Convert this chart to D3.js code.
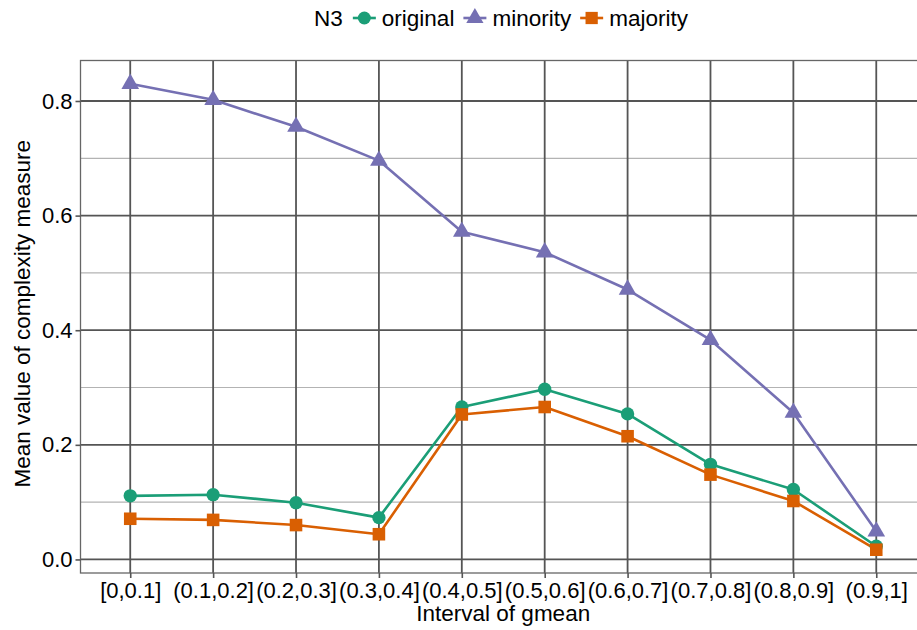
<!DOCTYPE html>
<html>
<head>
<meta charset="utf-8">
<script src="https://cdn.jsdelivr.net/npm/d3@7"></script>
<style>
  html, body { margin: 0; padding: 0; background: #ffffff; }
  svg { display: block; font-family: "Liberation Sans", Arial, Helvetica, sans-serif; }
</style>
</head>
<body>
<svg id="chart" width="917" height="630"></svg>
<script>
// Intervals of gmean (x categories)
const categories = ["[0,0.1]", "(0.1,0.2]", "(0.2,0.3]", "(0.3,0.4]", "(0.4,0.5]",
                    "(0.5,0.6]", "(0.6,0.7]", "(0.7,0.8]", "(0.8,0.9]", "(0.9,1]"];

// Mean N3 value per interval, for each series
const original = [0.111, 0.113, 0.099, 0.073, 0.266, 0.297, 0.254, 0.166, 0.122, 0.023];
const minority = [0.830, 0.802, 0.755, 0.696, 0.572, 0.536, 0.471, 0.383, 0.256, 0.049];
const majority = [0.071, 0.069, 0.060, 0.044, 0.253, 0.266, 0.215, 0.148, 0.102, 0.017];

const seriesNames = ["original", "minority", "majority"];
const yMajorTicks = [0.0, 0.2, 0.4, 0.6, 0.8];
const yMinorTicks = [0.1, 0.3, 0.5, 0.7];

const legendTitle = "N3";
const xTitle = "Interval of gmean";
const yTitle = "Mean value of complexity measure";

const colors = { original: "#1B9E77", minority: "#7570B3", majority: "#D95F02" };
const shapes = { original: d3.symbolCircle, minority: d3.symbolTriangle, majority: d3.symbolSquare };
const shapeSize = { original: 140, minority: 135, majority: 158 };

const series = [
  { name: "original", values: original },
  { name: "minority", values: minority },
  { name: "majority", values: majority }
];

const svg = d3.select("#chart");
const panel = { left: 80.5, right: 926, top: 60.5, bottom: 573 };

// Discrete x axis with 0.6 unit padding on each side
const x = d3.scalePoint()
  .domain(categories)
  .range([panel.left, panel.right])
  .padding(0.6);

// Continuous y axis with 5% expansion around the data range
const allVals = original.concat(minority, majority);
const yMin = d3.min(allVals), yMax = d3.max(allVals);
const pad = (yMax - yMin) * 0.05;
const y = d3.scaleLinear()
  .domain([yMin - pad, yMax + pad])
  .range([panel.bottom, panel.top]);

const g = svg.append("g");

// Clip everything in the panel to its box
svg.append("defs").append("clipPath").attr("id", "panelClip")
  .append("rect")
  .attr("x", panel.left).attr("y", panel.top)
  .attr("width", panel.right - panel.left).attr("height", panel.bottom - panel.top);

const grid = g.append("g").attr("clip-path", "url(#panelClip)");

// Minor horizontal grid
grid.selectAll("line.minor").data(yMinorTicks).join("line")
  .attr("class", "minor")
  .attr("x1", panel.left).attr("x2", panel.right)
  .attr("y1", d => y(d)).attr("y2", d => y(d))
  .attr("stroke", "#b3b3b3").attr("stroke-width", 1.2);

// Major horizontal grid
grid.selectAll("line.major").data(yMajorTicks).join("line")
  .attr("class", "major")
  .attr("x1", panel.left).attr("x2", panel.right)
  .attr("y1", d => y(d)).attr("y2", d => y(d))
  .attr("stroke", "#555555").attr("stroke-width", 1.8);

// Vertical grid at each category
grid.selectAll("line.vert").data(categories).join("line")
  .attr("class", "vert")
  .attr("x1", d => x(d)).attr("x2", d => x(d))
  .attr("y1", panel.top).attr("y2", panel.bottom)
  .attr("stroke", "#555555").attr("stroke-width", 1.8);

// Panel border
g.append("rect")
  .attr("x", panel.left).attr("y", panel.top)
  .attr("width", panel.right - panel.left).attr("height", panel.bottom - panel.top)
  .attr("fill", "none").attr("stroke", "#666666").attr("stroke-width", 1.3);

// Y axis
const yAxis = g.append("g")
  .attr("transform", `translate(${panel.left},0)`)
  .call(d3.axisLeft(y).tickValues(yMajorTicks).tickFormat(d3.format(".1f")).tickSize(5).tickPadding(3));
yAxis.select(".domain").remove();
yAxis.selectAll(".tick line").attr("stroke", "#555555").attr("stroke-width", 1.6);
yAxis.selectAll(".tick text").attr("fill", "#000").attr("font-size", "22px")
  .attr("font-family", null);

// X axis
const xAxis = g.append("g")
  .attr("transform", `translate(0,${panel.bottom})`)
  .call(d3.axisBottom(x).tickSize(5).tickPadding(4));
xAxis.select(".domain").remove();
xAxis.selectAll(".tick line").attr("stroke", "#555555").attr("stroke-width", 1.6);
xAxis.selectAll(".tick text").attr("fill", "#000").attr("font-size", "22px")
  .attr("font-family", null).attr("dy", "0.71em");

// Axis titles
svg.append("text")
  .attr("x", (panel.left + panel.right) / 2).attr("y", 621)
  .attr("text-anchor", "middle").attr("font-size", "22.5px").attr("fill", "#000")
  .text(xTitle);

svg.append("text")
  .attr("transform", `translate(30,${(panel.top + panel.bottom) / 2 - 3}) rotate(-90)`)
  .attr("text-anchor", "middle").attr("font-size", "22.5px").attr("fill", "#000")
  .text(yTitle);

// Lines and points
const line = d3.line()
  .x((d, i) => x(categories[i]))
  .y(d => y(d));

const plot = g.append("g");
series.forEach(s => {
  plot.append("path")
    .datum(s.values)
    .attr("d", line)
    .attr("fill", "none")
    .attr("stroke", colors[s.name])
    .attr("stroke-width", 2.6)
    .attr("stroke-linejoin", "round");
});
series.forEach(s => {
  plot.selectAll(null).data(s.values).join("path")
    .attr("transform", (d, i) => `translate(${x(categories[i])},${y(d)})`)
    .attr("d", d3.symbol().type(shapes[s.name]).size(shapeSize[s.name]))
    .attr("fill", colors[s.name]);
});

// Legend across the top
const legend = svg.append("g");
const baseY = 26;
const keyW = 23;
let cx = 0;
const title = legend.append("text")
  .attr("x", cx).attr("y", baseY).attr("font-size", "22.5px").attr("fill", "#000")
  .text(legendTitle);
cx += title.node().getComputedTextLength() + 10;
seriesNames.forEach((name, i) => {
  const key = legend.append("g").attr("transform", `translate(${cx},${baseY - 8})`);
  key.append("line")
    .attr("x1", 0).attr("x2", keyW).attr("y1", 0).attr("y2", 0)
    .attr("stroke", colors[name]).attr("stroke-width", 2.6);
  key.append("path")
    .attr("transform", `translate(${keyW / 2},0)`)
    .attr("d", d3.symbol().type(shapes[name]).size(shapeSize[name] * 0.95))
    .attr("fill", colors[name]);
  cx += keyW + 6;
  const t = legend.append("text")
    .attr("x", cx).attr("y", baseY).attr("font-size", "22.5px").attr("fill", "#000")
    .text(name);
  cx += t.node().getComputedTextLength() + 9;
});
const legendWidth = cx - 9;
legend.attr("transform", `translate(${501 - legendWidth / 2},0)`);
</script>
</body>
</html>
